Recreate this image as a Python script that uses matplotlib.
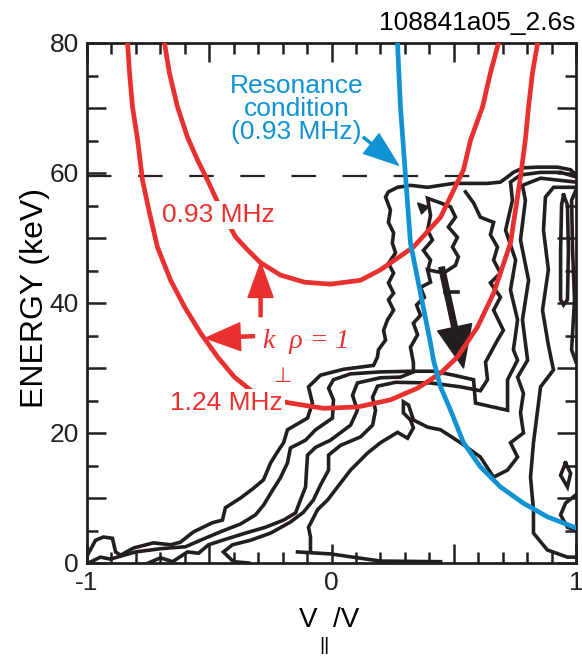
import numpy as np
import matplotlib
matplotlib.use("Agg")
from matplotlib import pyplot as plt

plt.rcParams['font.family'] = ['Liberation Sans', 'DejaVu Sans']
plt.rcParams['axes.unicode_minus'] = False

RED = '#E8312F'
BLUE = '#1192D3'
INK = '#231f20'

# k_perp rho = 1 curves (v_par/v, energy keV)
red_093_v = [-0.683, -0.663, -0.630, -0.589, -0.548, -0.507, -0.474, -0.434, -0.393, -0.344, -0.290, -0.209,
             -0.110, -0.004, 0.119, 0.200, 0.335, 0.446, 0.540, 0.569, 0.618, 0.650, 0.683]
red_093_e = [80.0, 75.4, 70.2, 65.5, 62.0, 58.9, 56.2, 53.1, 50.2, 48.2, 46.2, 44.3,
             43.2, 42.9, 43.5, 45.1, 48.6, 53.2, 60.5, 65.1, 70.2, 75.4, 80.0]
red_124_v = [-0.834, -0.826, -0.814, -0.793, -0.773, -0.744, -0.712, -0.658, -0.601, -0.536, -0.466, -0.397,
             -0.331, -0.249, -0.168, -0.033, 0.106, 0.241, 0.352, 0.446, 0.515, 0.597, 0.663, 0.732,
             0.773, 0.793, 0.806, 0.822, 0.843]
red_124_e = [80.0, 75.4, 70.2, 65.1, 58.9, 53.8, 48.6, 43.5, 39.4, 35.4, 31.7, 28.6,
             26.6, 25.2, 24.6, 23.8, 24.0, 25.1, 26.9, 29.2, 31.7, 36.3, 41.5, 49.2,
             59.4, 65.1, 70.2, 75.4, 80.0]

# resonance condition (0.93 MHz)
res_v = [0.270, 0.282, 0.303, 0.323, 0.364, 0.405, 0.417, 0.446, 0.487, 0.540, 0.609, 0.691, 0.785, 0.883, 1.0]
res_e = [80.0, 70.2, 59.4, 49.2, 41.5, 33.8, 31.2, 27.1, 23.5, 18.5, 14.8, 11.7, 9.2, 7.1, 5.4]

# measured distribution contours
c1_v = [-0.994, -0.965, -0.933, -0.896, -0.883, -0.863, -0.810, -0.728, -0.658, -0.618, -0.564, -0.487,
        -0.446, -0.434, -0.372, -0.319, -0.278, -0.249, -0.221, -0.196, -0.180, -0.098, -0.078, -0.094,
        -0.045, 0.049, 0.172, 0.188, 0.192, 0.221, 0.213, 0.229, 0.254, 0.233, 0.254, 0.233, 0.254,
        0.233, 0.262, 0.249, 0.254, 0.233, 0.241, 0.221, 0.233, 0.270, 0.323, 0.393, 0.446, 0.499,
        0.569, 0.638, 0.691, 0.720, 0.744, 0.785, 0.843, 0.924, 0.978, 1.0]
c1_e = [1.5, 3.5, 4.0, 3.8, 1.7, 1.2, 2.3, 3.1, 2.8, 3.2, 4.8, 6.2,
        6.6, 8.5, 10.0, 11.5, 12.8, 15.4, 17.1, 18.5, 20.5, 22.3, 24.6, 27.1,
        28.9, 29.8, 30.4, 31.7, 32.8, 34.3, 35.8, 37.4, 38.9, 40.5, 41.5, 43.1, 44.6,
        46.1, 47.7, 49.2, 50.8, 52.4, 54.3, 56.3, 57.1, 57.8, 58.1, 57.8, 58.1, 58.4,
        58.4, 58.4, 58.6, 59.4, 60.1, 60.8, 60.9, 60.9, 60.5, 59.7]

c2_v = [-0.994, -0.945, -0.904, -0.802, -0.699, -0.597, -0.536, -0.454, -0.372, -0.311, -0.278, -0.241,
        -0.209, -0.180, -0.168, -0.106, -0.065, 0.004, 0.008, -0.012, 0.008, 0.078, 0.200, 0.323,
        0.417, 0.499, 0.581, 0.589, 0.720, 0.720, 0.761, 0.744, 0.761, 0.732, 0.753, 0.712, 0.740,
        0.732, 0.773, 0.855, 0.937, 1.0]
c2_e = [0.0, 0.9, 0.6, 1.7, 2.2, 2.5, 3.5, 4.8, 6.0, 7.4, 8.9, 11.2,
        13.1, 15.4, 17.7, 18.9, 20.5, 22.3, 25.1, 26.9, 28.2, 29.1, 29.4, 29.5,
        29.5, 28.9, 28.2, 24.6, 23.5, 28.2, 31.2, 32.8, 37.4, 42.0, 46.6, 51.2, 55.8,
        58.6, 59.7, 60.1, 60.1, 59.4]

c3_v = [-0.749, -0.699, -0.650, -0.589, -0.544, -0.503, -0.446, -0.352, -0.270, -0.196, -0.147, -0.127,
        -0.106, -0.102, -0.098, -0.065, -0.004, 0.078, 0.106, 0.086, 0.106, 0.200, 0.282, 0.335,
        0.335, 0.323, 0.352, 0.335, 0.364, 0.348, 0.380, 0.364, 0.405, 0.393, 0.434, 0.466,
        0.507, 0.519, 0.495, 0.515, 0.478, 0.507, 0.487, 0.446, 0.393, 0.405, 0.393, 0.413,
        0.376, 0.405, 0.397]
c3_e = [0.0, 0.8, 0.2, 1.7, 1.5, 2.8, 3.5, 4.6, 5.5, 6.6, 7.7, 9.7,
        11.7, 14.3, 16.6, 17.8, 18.9, 21.2, 23.5, 25.8, 27.7, 28.5, 28.6, 29.4,
        30.8, 33.2, 35.1, 36.9, 38.1, 39.7, 40.9, 42.4, 43.2, 45.1, 44.8, 44.8,
        45.8, 47.1, 48.6, 50.1, 51.7, 53.2, 54.8, 55.4, 56.1, 53.5, 51.2, 49.7,
        48.1, 46.6, 45.5]

c4_v = [-0.339, -0.401, -0.442, -0.405, -0.331, -0.249, -0.168, -0.115, -0.074, -0.045, -0.012, -0.012,
        0.037, 0.119, 0.168, 0.180, 0.168, 0.188, 0.262, 0.405, 0.528, 0.609, 0.638, 0.630,
        0.679, 0.703, 0.663, 0.691, 0.650, 0.691, 0.663, 0.679, 0.650, 0.663, 0.609, 0.581, 0.548]
c4_e = [0.0, 0.2, 1.7, 2.8, 3.5, 4.6, 6.3, 7.8, 9.7, 12.0, 14.3, 16.6,
        18.1, 19.4, 21.2, 23.5, 25.5, 27.2, 27.8, 27.7, 27.1, 26.5, 28.2, 30.9,
        34.3, 35.8, 38.9, 40.9, 43.1, 44.6, 46.6, 48.6, 50.5, 52.4, 53.2, 55.4, 57.1]

c5_v = [-0.086, -0.086, -0.094, -0.057, -0.016, 0.037, 0.078, 0.147, 0.200, 0.270, 0.311, 0.335,
        0.323, 0.294, 0.294, 0.315, 0.335, 0.393, 0.446, 0.528, 0.609, 0.663, 0.720, 0.761,
        0.732, 0.785, 0.773, 0.785, 0.761, 0.802, 0.781, 0.806, 0.773, 0.793, 0.781, 0.855, 1.0]
c5_e = [1.7, 4.0, 5.5, 8.2, 9.7, 12.3, 14.3, 16.9, 18.5, 20.1, 19.2, 20.8,
        22.0, 23.1, 24.8, 24.3, 22.0, 20.9, 20.5, 18.5, 16.3, 13.2, 14.3, 16.3,
        18.5, 20.0, 23.1, 26.1, 28.6, 31.2, 37.4, 43.5, 49.7, 55.8, 58.1, 59.2, 58.6]

c6_v = [1.0, 0.908, 0.875, 0.867, 0.887, 0.863, 0.887, 0.908, 0.855, 0.843, 0.826, 0.814,
        0.826, 0.826, 0.883, 0.965, 1.0]
c6_e = [57.8, 57.8, 56.3, 51.2, 45.1, 38.9, 33.5, 29.7, 27.1, 23.5, 18.5, 13.2,
        8.2, 4.6, 2.0, 0.9, 0.9]

c7_v = [0.949, 0.965, 0.969, 0.965, 0.949, 0.937, 0.937, 0.941, 0.949]
c7_e = [56.6, 55.1, 48.1, 40.5, 39.7, 40.5, 48.1, 55.1, 56.6]
c8_v = [1.0, 0.982, 0.986, 0.994, 0.982, 1.0]
c8_e = [57.4, 55.8, 48.1, 40.5, 32.8, 30.9]
c9_v = [0.957, 0.978, 0.965, 0.937, 0.957]
c9_e = [15.4, 13.8, 11.7, 13.5, 15.4]
c10_v = [1.0, 0.957, 0.937, 0.965, 1.0]
c10_e = [10.5, 9.2, 7.4, 5.5, 5.1]
c11_v = [-0.139, -0.004, 0.106, 0.200, 0.446]
c11_e = [1.7, 1.4, 0.8, 0.3, 0.2]
c12_v = [0.466, 0.519]
c12_e = [41.7, 41.7]

blob_v = [0.352, 0.397, 0.368]
blob_e = [55.4, 54.8, 53.7]

contours = [(c1_v, c1_e), (c2_v, c2_e), (c3_v, c3_e), (c4_v, c4_e), (c5_v, c5_e), (c6_v, c6_e),
            (c7_v, c7_e), (c8_v, c8_e), (c9_v, c9_e), (c10_v, c10_e), (c11_v, c11_e), (c12_v, c12_e)]

fig = plt.figure(figsize=(5.82, 6.57), dpi=100)
ax = fig.add_axes([87 / 582, 94 / 657, 489 / 582, 520 / 657])

ax.plot([-1.0, 0.66], [59.5, 59.5], color=INK, lw=1.6, ls=(0, (11, 12)), zorder=1)

for cv, ce in contours:
    ax.plot(cv, ce, color=INK, lw=2.6, solid_joinstyle='miter', zorder=2)
ax.fill(blob_v, blob_e, color=INK, zorder=2)

ax.annotate('', xy=(0.540, 30.0), xytext=(0.450, 45.5),
            arrowprops=dict(facecolor=INK, edgecolor=INK, width=4, headwidth=25, headlength=30),
            zorder=3)

ax.plot(red_093_v, red_093_e, color=RED, lw=3.4, zorder=4)
ax.plot(red_124_v, red_124_e, color=RED, lw=3.4, zorder=4)
ax.plot(res_v, res_e, color=BLUE, lw=3.4, zorder=5)

# labels
ax.text(-0.462, 52.5, '0.93 MHz', color=RED, fontsize=19, ha='center', va='baseline', zorder=6,
        bbox=dict(facecolor='white', edgecolor='none', pad=1.5))
ax.text(-0.430, 23.5, '1.24 MHz', color=RED, fontsize=19, ha='center', va='baseline', zorder=6,
        bbox=dict(facecolor='white', edgecolor='none', pad=1.5))
ax.text(-0.282, 33.1, 'k  \u03c1 = 1', color=RED, fontsize=20, ha='left', va='baseline',
        family=['Liberation Serif', 'DejaVu Serif'], style='italic', zorder=6)
ax.text(-0.200, 27.8, '\u22a5', color=RED, fontsize=15, ha='center', va='baseline',
        family=['DejaVu Sans'], zorder=6)
ax.annotate('', xy=(-0.290, 46.2), xytext=(-0.290, 37.9),
            arrowprops=dict(facecolor=RED, edgecolor=RED, width=2.2, headwidth=18, headlength=25), zorder=6)
ax.annotate('', xy=(-0.515, 34.6), xytext=(-0.315, 34.9),
            arrowprops=dict(facecolor=RED, edgecolor=RED, width=2.2, headwidth=20, headlength=25), zorder=6)

ax.text(-0.143, 65.2, 'Resonance\ncondition\n(0.93 MHz)', color=BLUE, fontsize=19, ha='center',
        va='baseline', linespacing=0.95, zorder=6)
ax.annotate('', xy=(0.274, 61.2), xytext=(0.130, 65.5),
            arrowprops=dict(facecolor=BLUE, edgecolor=BLUE, width=1.5, headwidth=18, headlength=25), zorder=6)

ax.set_xlim(-1, 1)
ax.set_ylim(0, 80)
ax.set_xticks([-1, -0.5, 0, 0.5, 1])
ax.set_xticklabels(['-1', '', '0', '', '1'])
ax.set_xticks(np.arange(-0.9, 0.95, 0.1), minor=True)
ax.set_yticks([0, 10, 20, 30, 40, 50, 60, 70, 80])
ax.set_yticklabels(['0', '', '20', '', '40', '', '60', '', '80'])
ax.set_yticks(np.arange(5, 80, 10), minor=True)
ax.tick_params(which='both', direction='in', top=True, right=True, width=1.8, colors=INK,
               labelsize=19, pad=6)
ax.tick_params(which='major', length=14)
ax.tick_params(which='minor', length=8)
for s in ax.spines.values():
    s.set_linewidth(2.0)
    s.set_color(INK)

fig.text(575 / 582, 1 - 30 / 657, '108841a05_2.6s', ha='right', va='baseline', fontsize=19)
fig.text(35 / 582, 1 - 298 / 657, 'ENERGY (keV)', rotation=90, ha='center', va='center', fontsize=23)
fig.text(308 / 582, 1 - 627 / 657, 'V', ha='center', va='baseline', fontsize=20)
fig.text(346 / 582, 1 - 627 / 657, '/V', ha='center', va='baseline', fontsize=20)
fig.text(324 / 582, 1 - 650 / 657, '||', ha='center', va='baseline', fontsize=14)

fig.savefig('out.png', dpi=100)
